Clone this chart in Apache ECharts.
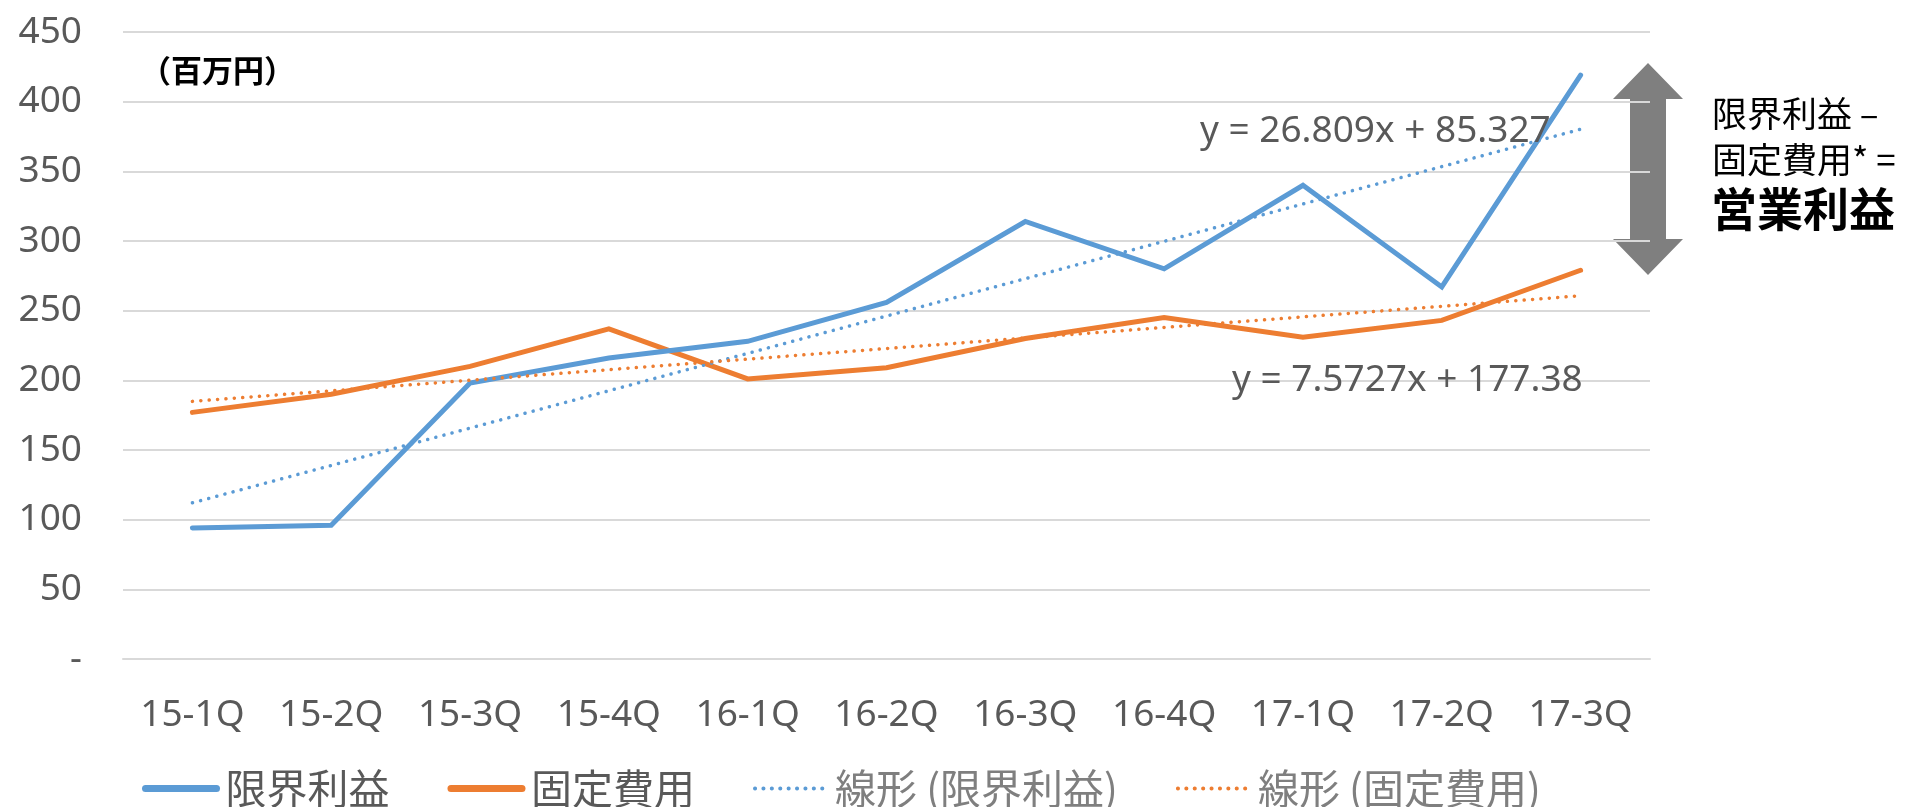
<!DOCTYPE html>
<html>
<head>
<meta charset="utf-8">
<script src="https://cdn.jsdelivr.net/npm/echarts@6/dist/echarts.min.js"></script>
<style>
html,body{margin:0;padding:0;background:#fff;}
#chart{width:1910px;height:807px;}
</style>
</head>
<body>
<div id="chart"></div>
<script>
// ---- data ----
const categories = ['15-1Q','15-2Q','15-3Q','15-4Q','16-1Q','16-2Q','16-3Q','16-4Q','17-1Q','17-2Q','17-3Q'];
const marginalProfit = [94, 96, 198, 216, 228, 256, 314, 280, 340, 267, 419];   // 限界利益
const fixedCost      = [177, 190, 210, 237, 201, 209, 230, 245, 231, 243, 279];   // 固定費用
// trend line end points (first and last quarter)
const marginalTrendEnds = [112.1, 380.2];
const fixedTrendEnds    = [184.9, 260.7];
const marginalTrendLabel = 'y = 26.809x + 85.327';
const fixedTrendLabel    = 'y = 7.5727x + 177.38';
const yTickLabels = {0:'-',50:'50',100:'100',150:'150',200:'200',250:'250',300:'300',350:'350',400:'400',450:'450'};
const seriesNames = ['限界利益','固定費用','線形 (限界利益)','線形 (固定費用)'];
const unitLabel = '（百万円）';
const noteLines = ['限界利益 –','固定費用* =','営業利益'];

function endsToSeries(ends){
  const arr = categories.map(() => null);
  arr[0] = ends[0];
  arr[arr.length-1] = ends[1];
  return arr;
}

const BLUE = '#5B9BD5', ORANGE = '#ED7D31', GRAY = '#595959';
const FONT = '"Noto Sans", "Noto Sans CJK JP", sans-serif';
const CJK = '"Noto Sans CJK JP", "Noto Sans", sans-serif';
const DOT = [0.1, 8.3];

const chart = echarts.init(document.getElementById('chart'));
chart.setOption({
  animation: false,
  backgroundColor: '#fff',
  grid: {left: 123, right: 260, top: 32, bottom: 148, containLabel: false},
  xAxis: {
    type: 'category',
    data: categories,
    boundaryGap: true,
    axisLine: {show: true, lineStyle: {color: '#d9d9d9', width: 2}},
    axisTick: {show: false},
    axisLabel: {color: GRAY, fontSize: 37, fontFamily: FONT, margin: 38, interval: 0}
  },
  yAxis: {
    type: 'value',
    min: 0, max: 450, interval: 50,
    axisLine: {show: false},
    axisTick: {show: false},
    splitLine: {lineStyle: {color: '#d9d9d9', width: 2}},
    axisLabel: {color: GRAY, fontSize: 37, fontFamily: FONT, margin: 41,
      formatter: v => yTickLabels[v] !== undefined ? yTickLabels[v] : String(v)}
  },
  legend: {
    left: 142, top: 768, padding: 0,
    itemWidth: 71, itemHeight: 14, itemGap: 58,
    itemStyle: {opacity: 0},
    textStyle: {fontSize: 41, fontFamily: CJK, color: GRAY, padding: [0,0,0,4]},
    data: [
      {name: seriesNames[0], itemStyle: {opacity: 0}, lineStyle: {width: 7, color: BLUE, cap: 'round'}},
      {name: seriesNames[1], itemStyle: {opacity: 0}, lineStyle: {width: 7, color: ORANGE, cap: 'round'}},
      {name: seriesNames[2], itemStyle: {opacity: 0}, lineStyle: {width: 4, color: BLUE, type: DOT, cap: 'round'}, textStyle: {color: '#7f7f7f'}},
      {name: seriesNames[3], itemStyle: {opacity: 0}, lineStyle: {width: 4, color: ORANGE, type: DOT, cap: 'round'}, textStyle: {color: '#7f7f7f'}}
    ]
  },
  series: [
    {name: seriesNames[0], type: 'line', data: marginalProfit, symbol: 'none', showSymbol: false,
     lineStyle: {color: BLUE, width: 5, cap: 'round', join: 'miter'}, itemStyle: {color: BLUE}, z: 4},
    {name: seriesNames[1], type: 'line', data: fixedCost, symbol: 'none', showSymbol: false,
     lineStyle: {color: ORANGE, width: 5, cap: 'round', join: 'miter'}, itemStyle: {color: ORANGE}, z: 3},
    {name: seriesNames[2], type: 'line', data: endsToSeries(marginalTrendEnds), connectNulls: true,
     symbol: 'none', showSymbol: false,
     lineStyle: {color: BLUE, width: 3.5, type: DOT, cap: 'round'}, itemStyle: {color: BLUE}, z: 5},
    {name: seriesNames[3], type: 'line', data: endsToSeries(fixedTrendEnds), connectNulls: true,
     symbol: 'none', showSymbol: false,
     lineStyle: {color: ORANGE, width: 3.5, type: DOT, cap: 'round'}, itemStyle: {color: ORANGE}, z: 5}
  ],
  graphic: [
    {type: 'polygon', z: -1, silent: true,
     shape: {points: [[1648,63],[1683,99],[1666,99],[1666,239],[1683,239],[1648,275],[1613,239],[1630,239],[1630,99],[1613,99]]},
     style: {fill: '#7f7f7f'}},
    {type: 'text', x: 140, y: 70, z: 10,
     style: {text: unitLabel, fontSize: 31, fontWeight: 'bold', fontFamily: CJK, fill: '#000', verticalAlign: 'middle'}},
    {type: 'text', x: 1200, y: 131, z: 10,
     style: {text: marginalTrendLabel, fontSize: 37, fontFamily: FONT, fill: GRAY, verticalAlign: 'middle', align: 'left'}},
    {type: 'text', x: 1232, y: 380, z: 10,
     style: {text: fixedTrendLabel, fontSize: 37, fontFamily: FONT, fill: GRAY, verticalAlign: 'middle', align: 'left'}},
    {type: 'text', x: 1712, y: 114, z: 10,
     style: {text: noteLines[0], fontSize: 35, fontFamily: CJK, fill: '#000', verticalAlign: 'middle'}},
    {type: 'text', x: 1712, y: 160, z: 10,
     style: {text: noteLines[1], fontSize: 35, fontFamily: CJK, fill: '#000', verticalAlign: 'middle'}},
    {type: 'text', x: 1711, y: 209, z: 10,
     style: {text: noteLines[2], fontSize: 46, fontWeight: 'bold', fontFamily: CJK, fill: '#000', verticalAlign: 'middle'}}
  ]
});
</script>
</body>
</html>
